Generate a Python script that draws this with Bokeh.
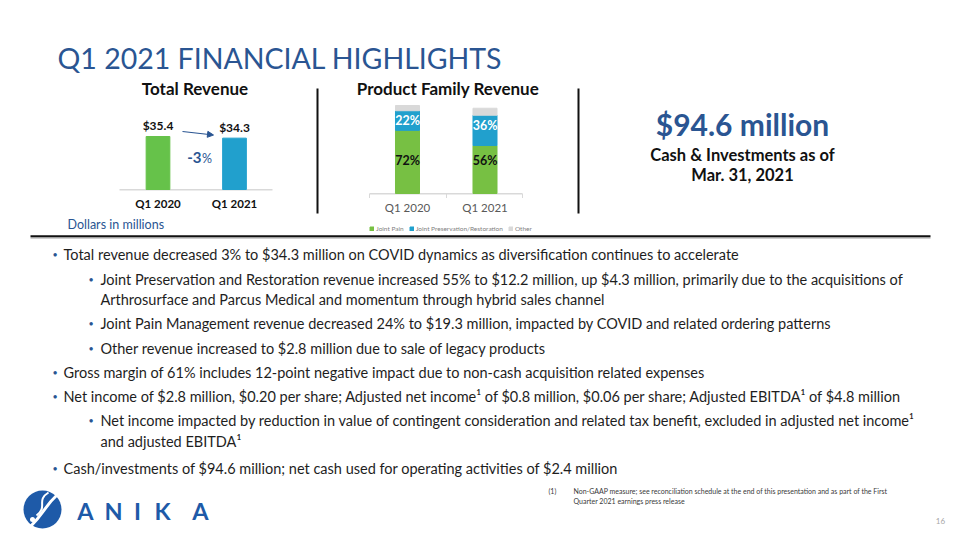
from bokeh.plotting import figure
from bokeh.models import (Range1d, ColumnDataSource, Label, Arrow, NormalHead)
from bokeh.embed import file_html
from bokeh.resources import INLINE
from bokeh.core.properties import value

# ---------------- data ----------------
quarters = ["Q1 2020", "Q1 2021"]
total_revenue = [35.4, 34.3]
total_labels = ["$35.4", "$34.3"]
total_colors = ["#66C24A", "#21A0CD"]
yoy_change = "-3"

families = ["Joint Pain", "Joint Preservation/Restoration", "Other"]
joint_pain = [25.4, 19.3]
joint_pres = [7.9, 12.2]
other_rev = [2.1, 2.8]
joint_pain_share = ["72%", "56%"]
joint_pres_share = ["22%", "36%"]
family_colors = ["#77C043", "#21A0CD", "#D9D9D9"]

cash_value = "$94.6 million"
cash_caption = ["Cash & Investments as of", "Mar. 31, 2021"]

bullets = [
    (1, True, "Total revenue decreased 3% to $34.3 million on COVID dynamics as diversification continues to accelerate"),
    (2, True, "Joint Preservation and Restoration revenue increased 55% to $12.2 million, up $4.3 million, primarily due to the acquisitions of"),
    (2, False, "Arthrosurface and Parcus Medical and momentum through hybrid sales channel"),
    (2, True, "Joint Pain Management revenue decreased 24% to $19.3 million, impacted by COVID and related ordering patterns"),
    (2, True, "Other revenue increased to $2.8 million due to sale of legacy products"),
    (1, True, "Gross margin of 61% includes 12-point negative impact due to non-cash acquisition related expenses"),
    (1, True, "Net income of $2.8 million, $0.20 per share; Adjusted net income\u00b9 of $0.8 million, $0.06 per share; Adjusted EBITDA\u00b9 of $4.8 million"),
    (2, True, "Net income impacted by reduction in value of contingent consideration and related tax benefit, excluded in adjusted net income\u00b9"),
    (2, False, "and adjusted EBITDA\u00b9"),
    (1, True, "Cash/investments of $94.6 million; net cash used for operating activities of $2.4 million"),
]
footnote = ["Non-GAAP measure; see reconciliation schedule at the end of this presentation and as part of the First",
            "Quarter 2021 earnings press release"]

# ---------------- layout constants ----------------
W, H = 951, 532
X0, Y0 = 0, 0          # page coordinates of the frame's top-left
BLUE = "#2A5592"
FONT = "Lato"

p = figure(width=W, height=H, output_backend="svg", toolbar_location=None,
           x_range=Range1d(X0, X0 + W), y_range=Range1d(Y0 + H, Y0),
           min_border=0, outline_line_color=None)
p.axis.visible = False
p.grid.visible = False
p.background_fill_color = "white"
p.border_fill_color = "white"


def anchored(pa, va, pb, vb, lo, hi):
    s = (vb - va) / (pb - pa)
    return Range1d(va + (lo - pa) * s, va + (hi - pa) * s)


# chart scales anchored at pixel positions of the slide
p.extra_x_ranges = {
    "tr_x": anchored(157.5, 0, 234, 1, X0, X0 + W),
    "pf_x": anchored(407, 0, 484.5, 1, X0, X0 + W),
}
p.extra_y_ranges = {
    "tr_y": anchored(189, 0, 136, 35.4, Y0 + H, Y0),
    "pf_y": anchored(193, 0, 105, 35.4, Y0 + H, Y0),
}


def label(x, y, text, size, color="#1E1E1E", style="normal", align="left",
          baseline="middle", font=FONT):
    p.add_layout(Label(x=x, y=y, text=text, text_font=font,
                       text_font_size=f"{size}px", text_color=color,
                       text_font_style=style, text_align=align,
                       text_baseline=baseline))


# ---------------- title ----------------
label(57, 57, "Q1 2021 FINANCIAL HIGHLIGHTS", 28.5, color=BLUE, baseline="alphabetic")

# ---------------- Total revenue chart ----------------
label(194.5, 88, "Total Revenue", 17, color="#111111", style="bold", align="center")
tr_src = ColumnDataSource(dict(idx=[0, 1], rev=total_revenue, lab=total_labels,
                               col=total_colors, q=quarters))
p.segment(x0=119, y0=189.3, x1=272, y1=189.3, line_color="#D9D9D9", line_width=1.5)
p.vbar(x="idx", top="rev", width=0.31, bottom=0, color="col", source=tr_src,
       x_range_name="tr_x", y_range_name="tr_y")
p.text(x="idx", y="rev", text="lab", source=tr_src, x_range_name="tr_x", y_range_name="tr_y",
       text_font=value(FONT), text_font_size="12px", text_font_style="bold",
       text_color="#111111", text_align="center", text_baseline="middle", y_offset=-11)
p.text(x="idx", y=0, text="q", source=tr_src, x_range_name="tr_x", y_range_name="tr_y",
       text_font=value(FONT), text_font_size="11.5px", text_font_style="bold",
       text_color="#111111", text_align="center", text_baseline="middle", y_offset=14)
p.add_layout(Arrow(end=NormalHead(size=6, fill_color=BLUE, line_color=BLUE),
                   x_start=182, y_start=131, x_end=213, y_end=134.5,
                   line_color=BLUE, line_width=1.2))
label(201, 157, yoy_change, 15, color=BLUE, style="bold", align="right")
label(201.5, 158, "%", 12.5, color=BLUE, align="left")

# separators
p.segment(x0=[317, 578], y0=[88, 88], x1=[317, 578], y1=[213, 213],
          line_color="#111111", line_width=2)

# ---------------- Product family chart ----------------
label(447.5, 88, "Product Family Revenue", 17, color="#111111", style="bold", align="center")
p.segment(x0=369, y0=193.3, x1=522, y1=193.3, line_color="#D9D9D9", line_width=1.5)
p.segment(x0=[369, 446, 522], y0=[193.3] * 3, x1=[369, 446, 522], y1=[197.5] * 3,
          line_color="#D9D9D9", line_width=1)
pf_src = ColumnDataSource(dict(idx=[0, 1], jp=joint_pain, jpr=joint_pres, oth=other_rev,
                               jps=joint_pain_share, jprs=joint_pres_share, q=quarters,
                               jpr_top=[a + b for a, b in zip(joint_pain, joint_pres)]))
p.vbar_stack(["jp", "jpr", "oth"], x="idx", width=0.31, color=family_colors,
             source=pf_src, x_range_name="pf_x", y_range_name="pf_y",
             legend_label=families)
p.text(x="idx", y=13.3, text="jps", source=pf_src, x_range_name="pf_x", y_range_name="pf_y",
       text_font=value(FONT), text_font_size="12.5px", text_font_style="bold",
       text_color="#111111", text_align="center", text_baseline="middle")
p.text(x="idx", y="jpr_top", text="jprs", source=pf_src, x_range_name="pf_x", y_range_name="pf_y",
       text_font=value(FONT), text_font_size="12.5px", text_font_style="bold",
       text_color="white", text_align="center", text_baseline="middle", y_offset=10)
p.text(x="idx", y=0, text="q", source=pf_src, x_range_name="pf_x", y_range_name="pf_y",
       text_font=value(FONT), text_font_size="11.5px",
       text_color="#595959", text_align="center", text_baseline="middle", y_offset=14)

lg = p.legend[0]
lg.orientation = "horizontal"
lg.location = (369, H - 232)
lg.label_text_font = FONT
lg.label_text_font_size = "6.5px"
lg.label_text_color = "#7F7F7F"
lg.glyph_width = 5
lg.glyph_height = 5
lg.label_height = 7
lg.label_width = 10
lg.label_standoff = 2
lg.spacing = 5
lg.padding = 0
lg.margin = 0
lg.border_line_color = None
lg.background_fill_alpha = 0

label(67, 224, "Dollars in millions", 12.5, color=BLUE)

# ---------------- cash block ----------------
label(742, 123, cash_value, 30, color=BLUE, style="bold", align="center")
label(742, 154, cash_caption[0], 16.5, color="#111111", style="bold", align="center")
label(742, 174, cash_caption[1], 16.5, color="#111111", style="bold", align="center")

# divider
p.segment(x0=30, y0=237.5, x1=930, y1=237.5, line_color="#BFBFBF", line_width=1.5)
p.segment(x0=30, y0=235.8, x1=930, y1=235.8, line_color="#111111", line_width=2)

# ---------------- bullets ----------------
line_y = [254, 279, 299, 323, 348, 372, 396, 420, 441, 468]
for (lvl, dot, txt), yy in zip(bullets, line_y):
    tx = 63 if lvl == 1 else 100
    bx = 52 if lvl == 1 else 88
    if dot:
        label(bx, yy, "\u2022", 9, color=BLUE, align="left")
    label(tx, yy, txt, 14.5, color="#1E1E1E")

# ---------------- footer ----------------
label(548, 490, "(1)", 7, color="#3A3A3A")
label(573, 490, footnote[0], 7, color="#3A3A3A")
label(573, 500, footnote[1], 7, color="#3A3A3A")
label(940, 520, "16", 8, color="#A6A6A6", align="center")

# logo
LOGO = "#1E5AA8"
p.circle(x=42, y=509, radius=19, fill_color=LOGO, line_color=None)
p.bezier(x0=57, y0=494, x1=30, y1=526, cx0=44, cy0=506, cx1=44, cy1=512,
         line_color="white", line_width=3)
p.bezier(x0=48, y0=492, x1=36, y1=515, cx0=35, cy0=500, cx1=48, cy1=506,
         line_color="white", line_width=2)
p.circle(x=32, y=519, radius=2.5, fill_color="white", line_color=None)
for ch, cx in zip("ANIKA", [85, 113, 137, 162, 200]):
    label(cx, 510, ch, 23.5, color=LOGO, style="bold", align="center")

open("out.html", "w").write(file_html(p, INLINE))
